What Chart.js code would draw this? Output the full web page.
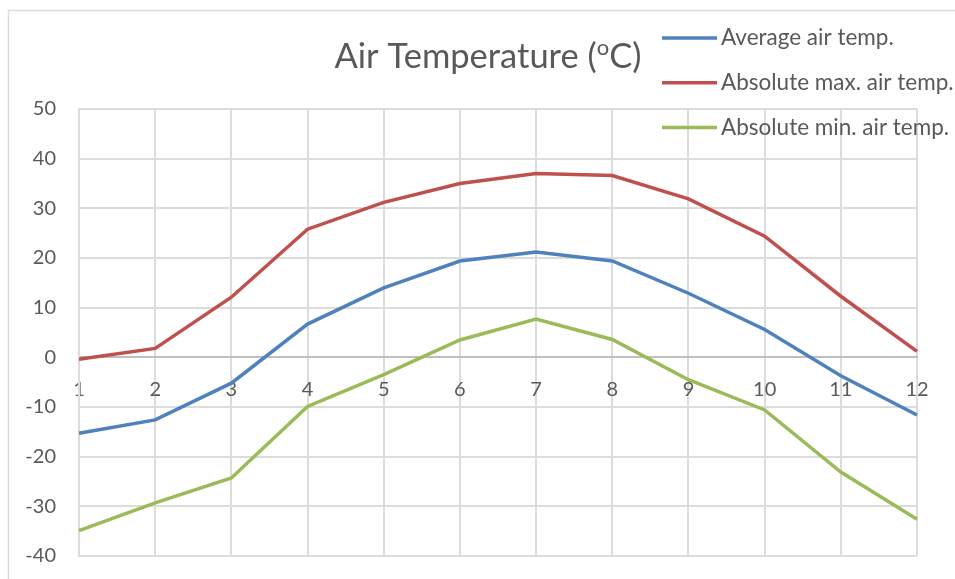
<!DOCTYPE html>
<html>
<head>
<meta charset="utf-8">
<script src="https://cdn.jsdelivr.net/npm/chart.js@4.4.0/dist/chart.umd.min.js"></script>
<style>
  html, body { margin: 0; padding: 0; background: #fff; }
  .wrap { width: 955px; height: 579px; position: relative; }
</style>
</head>
<body>
<div class="wrap"><canvas class="chart" width="955" height="579"></canvas></div>
<script>
// data
const months = ['1', '2', '3', '4', '5', '6', '7', '8', '9', '10', '11', '12'];
const avgTemp = [-15.3, -12.6, -5.2, 6.7, 14.0, 19.4, 21.2, 19.4, 12.9, 5.6, -3.7, -11.6];
const maxTemp = [-0.4, 1.8, 12.1, 25.8, 31.2, 35.0, 37.0, 36.6, 31.9, 24.4, 12.3, 1.2];
const minTemp = [-34.9, -29.3, -24.3, -9.9, -3.5, 3.5, 7.7, 3.6, -4.5, -10.6, -23.1, -32.6];
const seriesNames = ['Average air temp.', 'Absolute max. air temp.', 'Absolute min. air temp.'];
const yTicks = [-40, -30, -20, -10, 0, 10, 20, 30, 40, 50];

// consts
const FONT = 'Lato, "Open Sans", sans-serif';
const TEXT_COLOR = '#595959';
const GRID_COLOR = '#dcdcdc';
const colors = ['#4f81bd', '#c0504d', '#9bbb59'];

// outer frame of the chart object
const framePlugin = {
  id: 'frame',
  beforeDraw(chart) {
    const ctx = chart.ctx;
    ctx.save();
    ctx.strokeStyle = GRID_COLOR;
    ctx.lineWidth = 1.5;
    ctx.beginPath();
    ctx.moveTo(8.5, chart.height);
    ctx.lineTo(8.5, 10.5);
    ctx.lineTo(chart.width, 10.5);
    ctx.stroke();
    ctx.restore();
  }
};

// title with a raised "o" for degrees
const titlePlugin = {
  id: 'superTitle',
  afterDraw(chart) {
    const ctx = chart.ctx;
    const parts = [
      {text: 'Air Temperature (', size: 34.5, rise: 0},
      {text: 'o', size: 22, rise: 13},
      {text: 'C)', size: 34.5, rise: 0},
    ];
    ctx.save();
    ctx.fillStyle = TEXT_COLOR;
    ctx.textBaseline = 'alphabetic';
    let total = 0;
    parts.forEach(p => {
      ctx.font = `${p.size}px ${FONT}`;
      p.w = ctx.measureText(p.text).width;
      total += p.w;
    });
    let x = 488 - total / 2;
    const baseline = 68;
    parts.forEach(p => {
      ctx.font = `${p.size}px ${FONT}`;
      ctx.fillText(p.text, x, baseline - p.rise);
      x += p.w;
    });
    ctx.restore();
  }
};

// legend in the top right corner, over the plot
const legendPlugin = {
  id: 'sideLegend',
  afterDraw(chart) {
    const ctx = chart.ctx;
    ctx.save();
    ctx.font = `22.5px ${FONT}`;
    ctx.textBaseline = 'middle';
    chart.data.datasets.forEach((ds, i) => {
      const y = 38 + i * 44.7;
      ctx.strokeStyle = ds.borderColor;
      ctx.lineWidth = 3.5;
      ctx.beginPath();
      ctx.moveTo(662, y);
      ctx.lineTo(717, y);
      ctx.stroke();
      ctx.fillStyle = TEXT_COLOR;
      ctx.fillText(ds.label, 721, y);
    });
    ctx.restore();
  }
};

function lineSet(label, data, color) {
  return {
    label: label,
    data: data,
    borderColor: color,
    backgroundColor: color,
    borderWidth: 3.5,
    pointRadius: 0,
    tension: 0,
    fill: false,
  };
}

const chart = new Chart(document.querySelector('.chart').getContext('2d'), {
  type: 'line',
  data: {
    labels: months,
    datasets: [
      lineSet(seriesNames[0], avgTemp, colors[0]),
      lineSet(seriesNames[1], maxTemp, colors[1]),
      lineSet(seriesNames[2], minTemp, colors[2]),
    ]
  },
  options: {
    responsive: false,
    animation: false,
    layout: {
      padding: {left: 0, top: 109, right: 38, bottom: 23}
    },
    plugins: {
      legend: {display: false},
      title: {display: false},
      tooltip: {enabled: false},
    },
    scales: {
      x: {
        position: {y: 0},
        offset: false,
        grid: {color: GRID_COLOR, lineWidth: 2, drawTicks: false},
        border: {color: '#bfbfbf', width: 2},
        ticks: {
          color: TEXT_COLOR,
          font: {family: FONT, size: 20},
          padding: 20,
          maxRotation: 0,
          autoSkip: false,
        },
      },
      y: {
        min: -40,
        max: 50,
        afterFit(scale) {
          scale.width = 79;
          scale.paddingTop = 0;
          scale.paddingBottom = 0;
        },
        afterBuildTicks(scale) { scale.ticks = yTicks.map(v => ({value: v})); },
        grid: {color: GRID_COLOR, lineWidth: 2, drawTicks: false},
        border: {color: GRID_COLOR, width: 2},
        ticks: {
          color: TEXT_COLOR,
          font: {family: FONT, size: 20},
          padding: 23,
        },
      }
    }
  },
  plugins: [framePlugin, titlePlugin, legendPlugin],
});
</script>
</body>
</html>
